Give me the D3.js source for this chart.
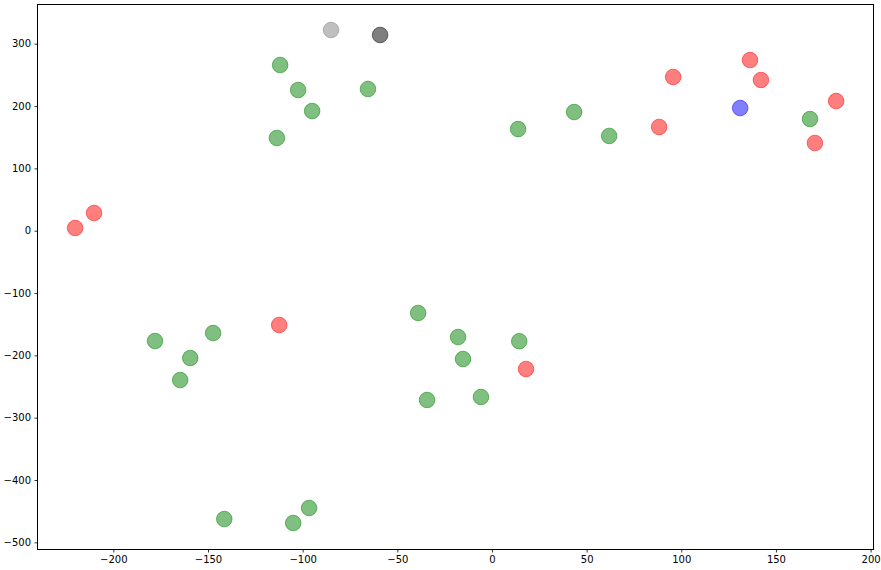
<!DOCTYPE html>
<html>
<head>
<meta charset="utf-8">
<script src="https://cdn.jsdelivr.net/npm/d3@7"></script>
<style>
    body { margin: 0; background: #fff; }
    svg { display: block; font-family: "DejaVu Sans", sans-serif; }
</style>
</head>
<body>
<div id="chart"></div>
<script>
// Points, one list per colour group.
const greenPoints = [
    [-111.9, 265.8], [-102.4, 225.7], [-95.0, 192.0], [-113.6, 148.7], [-65.5, 227.3],
    [13.8, 163.0], [43.4, 190.4], [61.9, 152.0], [168.0, 179.2],
    [-178.0, -177.0], [-159.4, -204.3], [-164.7, -239.6], [-147.3, -164.2],
    [-141.4, -462.6], [-105.0, -469.0], [-96.6, -444.9],
    [-39.0, -132.0], [-17.9, -170.6], [-15.3, -205.9], [-34.3, -271.6], [-5.8, -266.8], [14.4, -177.3]
];
const redPoints = [
    [95.7, 246.6], [88.3, 166.4], [136.3, 273.8], [142.1, 241.8], [181.8, 208.0], [170.6, 140.7],
    [-220.2, 4.3], [-210.2, 28.4], [-112.4, -151.3], [18.0, -221.9]
];
const bluePoints = [[131.1, 196.8]];
const greyPoints = [[-85.0, 322.0]];
const blackPoints = [[-59.1, 314.0]];

const groups = [
    { color: "green", points: greenPoints },
    { color: "red", points: redPoints },
    { color: "blue", points: bluePoints },
    { color: "grey", points: greyPoints },
    { color: "black", points: blackPoints }
];

const xTicks = [-200, -150, -100, -50, 0, 50, 100, 150, 200];
const yTicks = [-500, -400, -300, -200, -100, 0, 100, 200, 300];

const width = 881;
const height = 570;
const marginTop = 5;
const marginRight = 7;
const marginBottom = 21;
const marginLeft = 38;

const x = d3.scaleLinear()
    .domain([-239.8, 201.8])
    .range([marginLeft, width - marginRight]);

const y = d3.scaleLinear()
    .domain([-510.7, 362.1])
    .range([height - marginBottom, marginTop]);

const svg = d3.create("svg")
    .attr("width", width)
    .attr("height", height)
    .attr("viewBox", [0, 0, width, height]);

// Scatter markers, alpha 0.5 on face and edge like matplotlib.
svg.append("g")
  .selectAll("g")
  .data(groups)
  .join("g")
    .attr("fill", d => d.color)
    .attr("stroke", d => d.color)
  .selectAll("circle")
  .data(d => d.points)
  .join("circle")
    .attr("cx", d => x(d[0]))
    .attr("cy", d => y(d[1]))
    .attr("r", 7.8)
    .attr("fill-opacity", 0.5)
    .attr("stroke-opacity", 0.5)
    .attr("stroke-width", 1);

// Axes.
svg.append("g")
    .attr("transform", `translate(0,${height - marginBottom})`)
    .call(d3.axisBottom(x).tickValues(xTicks).tickSize(3.5).tickPadding(3.5).tickSizeOuter(0))
    .call(g => g.select(".domain").remove())
    .call(g => g.selectAll("line").attr("stroke", "#000").attr("stroke-width", 0.8))
    .call(g => g.selectAll("text").attr("font-size", 10).attr("fill", "#000")
        .attr("font-family", "DejaVu Sans"));

svg.append("g")
    .attr("transform", `translate(${marginLeft},0)`)
    .call(d3.axisLeft(y).tickValues(yTicks).tickSize(3.5).tickPadding(3.5).tickSizeOuter(0))
    .call(g => g.select(".domain").remove())
    .call(g => g.selectAll("line").attr("stroke", "#000").attr("stroke-width", 0.8))
    .call(g => g.selectAll("text").attr("font-size", 10).attr("fill", "#000")
        .attr("font-family", "DejaVu Sans"));

// Frame around the plot area, on half pixels so it stays crisp.
svg.append("rect")
    .attr("x", marginLeft - 0.5)
    .attr("y", marginTop - 0.5)
    .attr("width", width - marginLeft - marginRight)
    .attr("height", height - marginTop - marginBottom + 1)
    .attr("fill", "none")
    .attr("stroke", "#000")
    .attr("stroke-width", 1);

document.getElementById("chart").appendChild(svg.node());
</script>
</body>
</html>
